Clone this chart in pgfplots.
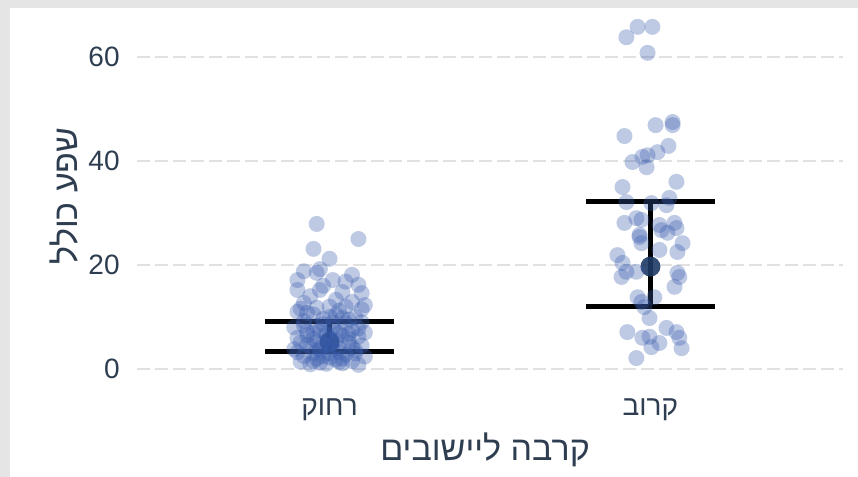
\documentclass[border=0pt]{standalone}
\usepackage{fontspec}
\usepackage{pgfplots}
\usepackage{pgfplotstable}
\pgfplotsset{compat=1.18}
\setmainfont{Liberation Sans}
\newfontfamily\hebfont[Script=Hebrew]{Liberation Sans}
\TeXXeTstate=1

\definecolor{txt}{HTML}{2E3E50}
\definecolor{pts}{HTML}{3A5DAE}
\definecolor{meanc}{HTML}{1F3A66}
\definecolor{gridc}{HTML}{E1E1E1}
\definecolor{bg}{HTML}{E5E5E5}

% far settlements (x = 1 + jitter)
\pgfplotstableread{
x y
0.96 27.9
1.09 25.0
0.95 23.1
1.00 21.2
0.92 18.8
0.97 19.2
0.96 18.5
1.07 18.1
0.90 17.1
1.01 17.1
1.09 16.2
0.90 15.2
0.97 15.2
1.04 14.8
1.10 14.6
0.92 12.7
1.02 13.3
1.07 12.9
1.11 12.3
0.98 16.0
1.05 16.8
0.94 14.0
1.00 12.0
0.90 11.0
0.95 10.5
1.03 11.2
1.08 10.0
0.98 9.6
1.10 9.0
0.92 9.2
1.05 8.8
0.89 8.0
0.96 8.3
1.01 7.9
1.07 7.5
1.11 7.0
0.93 7.2
0.99 6.8
1.04 6.5
0.90 6.0
1.09 6.2
0.95 5.8
1.02 5.5
1.06 5.0
0.91 5.1
0.98 4.8
1.10 4.5
0.94 4.3
1.03 4.0
0.89 3.8
1.08 3.6
0.97 3.5
1.00 3.0
1.05 2.8
0.92 2.5
1.11 2.4
0.96 2.0
1.02 1.8
1.07 1.5
0.91 1.4
0.99 1.0
1.04 1.1
0.94 0.9
1.09 0.8
1.00 6.0
1.06 9.5
0.93 10.8
1.01 9.0
0.97 7.5
1.08 3.0
0.90 3.2
1.03 6.9
0.95 1.5
1.10 11.5
0.99 4.2
1.05 12.0
0.91 11.6
1.02 10.4
0.93 6.5
1.06 5.8
0.98 2.5
1.09 7.8
0.96 5.2
1.01 5.0
0.97 4.0
1.03 3.2
1.00 2.2
0.95 3.0
1.04 2.0
0.99 6.5
1.02 7.2
0.93 4.6
1.07 4.2
0.97 1.2
1.01 3.8
0.98 8.6
1.04 9.8
0.92 8.4
1.06 6.8
0.95 7.0
1.00 10.0
0.96 11.8
1.03 1.4
}\far

% near settlements (x = 2 + jitter)
\pgfplotstableread{
x y
1.925 63.8
1.960 65.8
2.006 65.8
1.991 60.8
2.069 47.5
2.069 46.9
2.016 46.9
1.919 44.8
2.056 42.9
2.022 41.7
1.991 41.1
1.975 40.8
1.944 39.8
1.988 38.8
1.913 35.0
2.081 36.0
1.925 32.1
2.003 31.9
2.059 32.9
2.050 31.5
1.919 28.1
1.956 29.0
1.972 28.7
2.028 27.7
2.075 28.1
2.081 27.1
1.966 25.8
2.034 26.7
1.966 25.4
1.972 24.2
2.053 26.2
2.100 24.2
2.084 22.5
2.028 22.9
1.897 21.9
1.913 20.4
1.910 17.7
1.925 18.7
1.956 18.7
2.084 18.5
2.090 17.7
2.075 15.8
1.960 13.8
1.972 12.9
2.012 13.8
1.981 11.9
1.997 9.8
1.928 7.1
1.975 6.0
1.997 6.2
2.050 7.9
2.081 7.1
2.090 6.0
2.003 4.2
2.028 5.0
2.097 4.0
1.956 2.1
}\near

\begin{document}
\begin{tikzpicture}
\fill[bg] (0,0) rectangle (429pt,238.5pt);
\fill[white] (5pt,0) rectangle (429pt,234.5pt);
\path[use as bounding box] (0,0) rectangle (429pt,238.5pt);
\begin{axis}[
    at={(68.5pt,47.5pt)}, anchor=south west, scale only axis,
    width=353pt, height=185.9pt,
    xmin=0.4, xmax=2.6, ymin=-2.5, ymax=69,
    clip=false,
    axis line style={draw=none},
    major tick length=0pt,
    xtick={1,2},
    xticklabels={{\hebfont\beginR רחוק\endR},{\hebfont\beginR קרוב\endR}},
    ytick={0,20,40,60},
    ymajorgrids,
    major grid style={gridc, line width=1.3pt, dash pattern=on 6.5pt off 2.5pt},
    tick label style={font=\fontsize{14}{16}\selectfont, text=txt},
    /pgf/number format/assume math mode=true,
    xticklabel style={anchor=north, inner sep=0pt, yshift=-8pt},
    yticklabel style={anchor=east, inner sep=0pt, xshift=-8.5pt},
    xlabel={\hebfont\beginR קרבה ליישובים\endR},
    ylabel={\hebfont\beginR שפע כולל\endR},
    label style={font=\fontsize{17}{20}\selectfont, text=txt, inner sep=0pt},
    xlabel style={at={(axis description cs:0.493,-0.1345)}, anchor=north},
    ylabel style={at={(axis description cs:-0.1034,0.5)}, anchor=center},
]
% error bars
\addplot[black, line width=2.5pt] coordinates {(0.8,9.1) (1.2,9.1)};
\addplot[black, line width=2.5pt] coordinates {(0.8,3.4) (1.2,3.4)};
\addplot[black, line width=2.5pt] coordinates {(1,3.4) (1,9.1)};
\addplot[black, line width=2.5pt] coordinates {(1.8,32.2) (2.2,32.2)};
\addplot[black, line width=2.5pt] coordinates {(1.8,12.1) (2.2,12.1)};
\addplot[black, line width=2.5pt] coordinates {(2,12.1) (2,32.2)};
% means
\addplot[only marks, mark=*, mark size=5pt,
    mark options={fill=meanc, fill opacity=0.9, draw opacity=0}]
    coordinates {(1,5.2) (2,19.7)};
% jittered observations
\addplot[only marks, mark=*, mark size=4pt,
    mark options={fill=pts, fill opacity=0.33, draw opacity=0}] table {\far};
\addplot[only marks, mark=*, mark size=4pt,
    mark options={fill=pts, fill opacity=0.33, draw opacity=0}] table {\near};
\end{axis}
\end{tikzpicture}
\end{document}
